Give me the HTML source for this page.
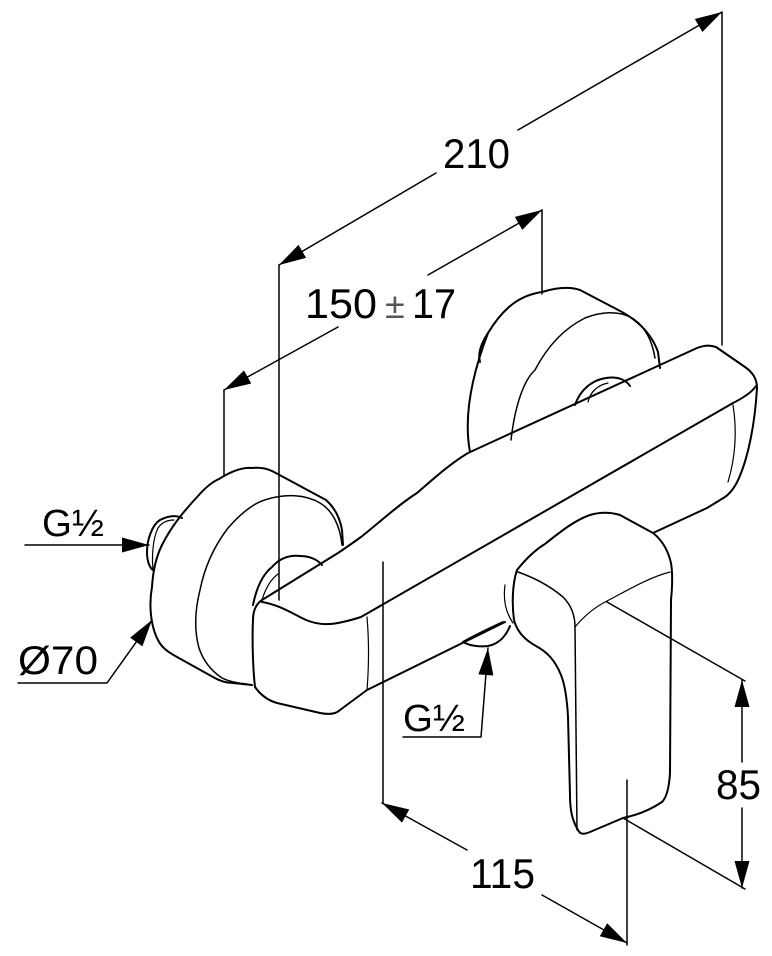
<!DOCTYPE html>
<html><head><meta charset="utf-8"><style>
html,body{margin:0;padding:0;background:#fff;}
svg{display:block;}
text{font-family:"Liberation Sans",sans-serif;fill:#000;}
</style></head><body>
<svg width="772" height="956" viewBox="0 0 772 956" xmlns="http://www.w3.org/2000/svg">
<defs>
<marker id="a" markerUnits="userSpaceOnUse" markerWidth="40" markerHeight="20" viewBox="-30 -10 32 20" refX="0" refY="0" orient="auto">
<path d="M0,0 L-27,-7.5 L-27,7.5 z" fill="#000"/>
</marker>
</defs>
<g fill="none" stroke="#000" stroke-width="1.5" stroke-linecap="round" stroke-linejoin="round">
<line x1="722" y1="12" x2="722" y2="345"/>
<line x1="279" y1="265" x2="279" y2="600"/>
<line x1="542" y1="210" x2="542" y2="294"/>
<line x1="224" y1="390" x2="224" y2="476"/>
<line x1="383" y1="562" x2="383" y2="803"/>
<line x1="627" y1="780" x2="627" y2="945"/>
<line x1="607" y1="602" x2="745" y2="681"/>
<line x1="623" y1="818" x2="745" y2="889"/>
<line x1="436" y1="173" x2="279" y2="265" marker-end="url(#a)"/>
<line x1="518" y1="130" x2="722" y2="12" marker-end="url(#a)"/>
<line x1="428" y1="275" x2="542" y2="210" marker-end="url(#a)"/>
<line x1="338" y1="327" x2="224" y2="390" marker-end="url(#a)"/>
<line x1="467" y1="850" x2="382" y2="803" marker-end="url(#a)"/>
<line x1="542" y1="895" x2="627" y2="943" marker-end="url(#a)"/>
<line x1="742" y1="762" x2="742" y2="680" marker-end="url(#a)"/>
<line x1="742" y1="808" x2="742" y2="888" marker-end="url(#a)"/>
<line x1="25" y1="545" x2="149" y2="545" marker-end="url(#a)"/>
<polyline points="18,683 107,683 152,620" marker-end="url(#a)"/>
<polyline points="403,737 481,737 488,648" marker-end="url(#a)"/>
</g>
<g fill="none" stroke="#000" stroke-width="2" stroke-linecap="round" stroke-linejoin="round">
<path d="M470,452 C464,420 470,380 488,333 C505,305 522,295 542,292 C555,288 568,286 580,290 L622,312 C640,322 652,335 658,352 L660,368"/>
<path d="M511,440 C515,405 524,380 535,370 C548,345 565,328 585,318 C600,312 618,310 632,318 C645,326 652,340 655,358" stroke-width="1.5"/>
<path d="M575,405 C580,390 592,380 606,378 C618,376 626,380 630,386"/>
<path d="M588,402 C590,392 598,385 608,383" stroke-width="1.2"/>
<path d="M488,333 C480,345 478,355 480,362"/>

<path d="M252,685 L233,683 C225,683 218,680 213,677 L177,657 C168,652 162,648 158,640 C150,625 149,603 152,587 C153,570 157,555 162,545 C172,525 185,510 198,496 C205,488 212,482 219,479 C230,472 242,467 252,468 C262,467 268,469 274,472 L326,500 C335,508 340,518 342,530 L343,545"/>
<path d="M247,684 C235,683 228,681 222,678 C210,670 203,660 199,648 C194,630 195,610 200,590 C205,565 215,545 228,528 C242,512 255,502 268,499 C285,494 305,494 320,503 C332,510 340,525 342,545" stroke-width="1.5"/>
<path d="M253,605 C256,590 262,575 272,567 C280,558 290,555 300,556 C310,556 318,560 322,565"/>
<path d="M262,600 C265,590 270,580 278,574" stroke-width="1.2"/>
<path d="M160,520 C152,525 147,540 147,552 C147,562 150,568 153,570"/>
<path d="M160,520 C168,516 176,515 182,518"/>
<path d="M153,570 C152,560 152,540 158,528 C162,522 168,520 174,520" stroke-width="1.2"/>

<path d="M255,687 C253,670 252,640 253,620 C253,610 256,604 262,600 L338,553 C347,547 354,542 361,537 C380,522 398,505 417,493 C430,482 448,465 468,453 L697,348 C705,345 710,345 716,347 L745,367 C752,372 757,378 757,388 C756,405 754,422 751,437 C748,452 745,463 741,473 C737,484 732,492 725,497 L707,508 L653,533"/>
<path d="M262,602 C280,605 293,614 306,620 C318,625 328,625 338,623 C348,621 355,619 361,617 L733,403 C745,397 752,392 756,386"/>
<path d="M255,687 C262,697 270,701 277,703 L320,713 C330,715 336,714 340,710 L367,690 L505,622"/>
<path d="M367,617 C369,640 369,665 367,690" stroke-width="1.2"/>
<path d="M733,405 C737,430 736,455 728,482" stroke-width="1.2"/>

<path d="M463,642 C470,646 480,647 488,646 C498,644 505,638 510,626"/>
<path d="M463,642 C475,635 490,628 503,622"/>
<path d="M505,585 C503,600 506,613 513,623" stroke-width="1.2"/>

<path d="M517,570 C525,560 535,550 545,544 C560,532 575,520 590,515 C600,512 610,512 620,515 L653,533 C662,540 668,550 671,563 C673,575 672,590 671,600 L670,773 C669,790 666,798 662,802 C650,810 638,815 623,818 L590,832 C583,835 580,834 578,830 C572,820 570,810 570,795 L568,717 C567,698 565,685 561,675 C555,660 547,652 536,646 C525,640 517,632 514,620 C512,605 512,585 517,570 Z"/>
<path d="M518,572 C535,578 550,586 563,597 C571,605 575,615 575,627 L577,830" stroke-width="1.5"/>
<path d="M575,627 C585,615 595,607 607,601 C628,590 650,577 670,572" stroke-width="1.2"/>
</g>
<text x="443" y="168" font-size="42" textLength="67" lengthAdjust="spacingAndGlyphs">210</text>
<text x="305" y="318" font-size="42" textLength="72" lengthAdjust="spacingAndGlyphs">150</text>
<text x="385" y="318" font-size="36" style="fill:#555">±</text>
<text x="412" y="318" font-size="42" textLength="44" lengthAdjust="spacingAndGlyphs">17</text>
<text x="470" y="888" font-size="42" textLength="65" lengthAdjust="spacingAndGlyphs">115</text>
<text x="716" y="799" font-size="42" textLength="45" lengthAdjust="spacingAndGlyphs">85</text>
<text x="18" y="674" font-size="40" textLength="80" lengthAdjust="spacingAndGlyphs">Ø70</text>
<text x="42" y="536" font-size="38" textLength="62" lengthAdjust="spacingAndGlyphs">G½</text>
<text x="403" y="731" font-size="38" textLength="62" lengthAdjust="spacingAndGlyphs">G½</text>
</svg>
</body></html>
